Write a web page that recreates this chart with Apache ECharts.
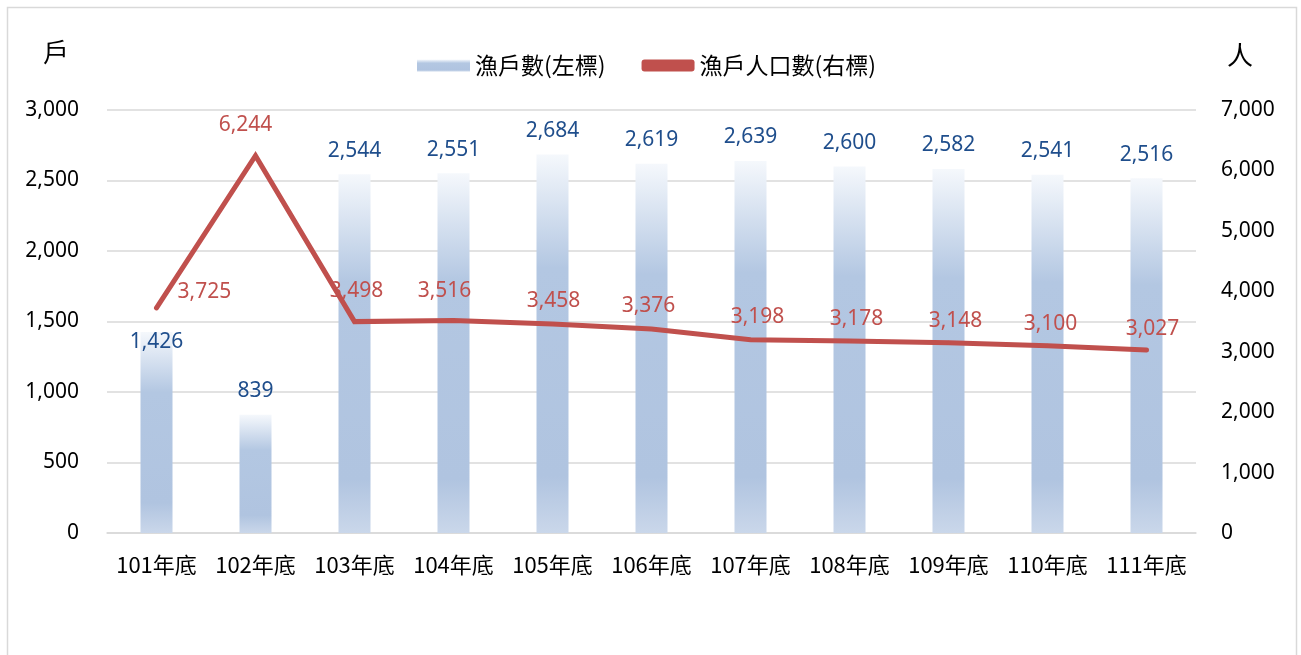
<!DOCTYPE html>
<html>
<head>
<meta charset="utf-8">
<script src="https://cdn.jsdelivr.net/npm/echarts@6/dist/echarts.min.js"></script>
<style>
  html, body { margin: 0; padding: 0; background: #fff; }
  #chart { width: 1301px; height: 655px; }
</style>
</head>
<body>
<div id="chart"></div>
<script>
// 資料
const years = ["101年底", "102年底", "103年底", "104年底", "105年底", "106年底", "107年底", "108年底", "109年底", "110年底", "111年底"];
const households = [1426, 839, 2544, 2551, 2684, 2619, 2639, 2600, 2582, 2541, 2516];
const population = [3725, 6244, 3498, 3516, 3458, 3376, 3198, 3178, 3148, 3100, 3027];

const numFont = "'Noto Sans', 'Noto Sans CJK TC', sans-serif";
const cjkFont = "'Noto Sans CJK TC', sans-serif";
const fmt = (v) => v.toLocaleString("en-US");

const barFill = new echarts.graphic.LinearGradient(0, 0, 0, 1, [
  { offset: 0, color: "#f5f8fc" },
  { offset: 0.3, color: "#b3c7e2" },
  { offset: 0.85, color: "#b0c4e0" },
  { offset: 1, color: "#cad7ea" },
]);

// 標籤偏移（仿原圖手動調整的位置）
const lineLabelOffsets = [[0, 0], [-10, -6], [2, -6], [-9, -5], [1, 1], [-3, 2], [7, 2], [7, 3], [7, 3], [3, 3], [6, 3]];

const chart = echarts.init(document.getElementById("chart"));

chart.setOption({
  animation: false,
  graphic: [
    {
      type: "rect",
      shape: { x: 7.5, y: 7.5, width: 1289, height: 700 },
      style: { fill: "none", stroke: "#d9d9d9", lineWidth: 1.5 },
      silent: true,
    },
  ],
  legend: {
    top: 49,
    left: 412,
    itemGap: 36,
    itemWidth: 53,
    itemHeight: 12,
    textStyle: { fontFamily: cjkFont, fontSize: 23, color: "#000" },
    data: [
      { name: "漁戶數(左標)", icon: "rect" },
      { name: "漁戶人口數(右標)", icon: "roundRect", itemStyle: { color: "#c0504d" } },
    ],
  },
  grid: { left: 107, right: 105, top: 110, bottom: 122 },
  xAxis: {
    type: "category",
    data: years,
    axisTick: { show: false },
    axisLine: { lineStyle: { color: "#d9d9d9", width: 1.5 } },
    axisLabel: { interval: 0, fontFamily: cjkFont, fontSize: 22, color: "#000", margin: 21 },
  },
  yAxis: [
    {
      type: "value",
      min: 0,
      max: 3000,
      interval: 500,
      name: "戶",
      nameLocation: "end",
      nameGap: 45,
      nameTextStyle: { fontFamily: cjkFont, fontSize: 26, color: "#000", align: "center", padding: [0, 0, 0, -102] },
      axisLabel: { formatter: fmt, fontFamily: numFont, fontSize: 21, color: "#000", margin: 28 },
      splitLine: { lineStyle: { color: "#d9d9d9", width: 1.5 } },
    },
    {
      type: "value",
      min: 0,
      max: 7000,
      interval: 1000,
      name: "人",
      nameLocation: "end",
      nameGap: 42,
      nameTextStyle: { fontFamily: cjkFont, fontSize: 26, color: "#000", align: "center", padding: [0, 0, 0, 88] },
      axisLabel: { formatter: fmt, fontFamily: numFont, fontSize: 21, color: "#000", margin: 25 },
      splitLine: { show: false },
    },
  ],
  series: [
    {
      name: "漁戶數(左標)",
      type: "bar",
      yAxisIndex: 0,
      barWidth: 32,
      itemStyle: { color: barFill },
      data: households.map((v, i) =>
        i === 0 ? { value: v, label: { offset: [0, 34] } } : v
      ),
      label: {
        show: true,
        position: "top",
        distance: 13,
        formatter: (p) => fmt(p.value),
        fontFamily: numFont,
        fontSize: 21,
        color: "#1f4e8c",
      },
    },
    {
      name: "漁戶人口數(右標)",
      type: "line",
      yAxisIndex: 1,
      symbol: "circle",
      symbolSize: 4,
      lineStyle: { color: "#c0504d", width: 5, cap: "round", join: "miter" },
      itemStyle: { color: "#c0504d" },
      z: 3,
      data: population.map((v, i) =>
        i === 0
          ? { value: v, label: { position: "right", offset: [7, -16] } }
          : { value: v, label: { offset: lineLabelOffsets[i] } }
      ),
      label: {
        show: true,
        position: "top",
        distance: 12,
        formatter: (p) => fmt(p.value),
        fontFamily: numFont,
        fontSize: 21,
        color: "#c0504d",
      },
    },
  ],
});
</script>
</body>
</html>
